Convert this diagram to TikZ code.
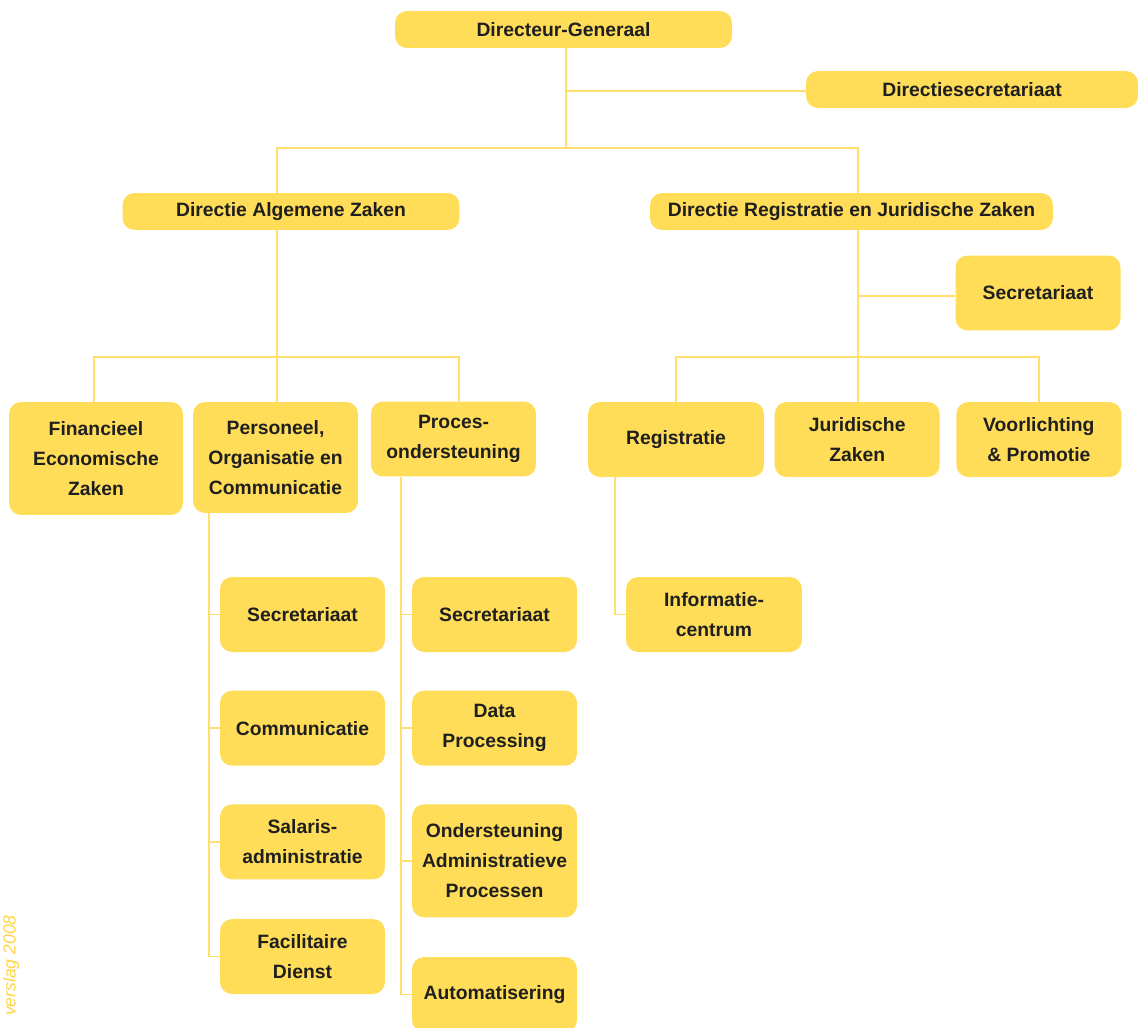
\documentclass[tikz,border=0pt]{standalone}
\usepackage{fontspec}
\setmainfont{Liberation Sans}
\usetikzlibrary{positioning}

\definecolor{unitfill}{RGB}{255,221,88}
\definecolor{unitline}{RGB}{255,224,110}
\definecolor{footyellow}{RGB}{255,212,70}

\begin{document}
\begin{tikzpicture}[x=0.02cm, y=-0.02cm]

\tikzstyle{unit} = [rectangle, rounded corners=0.24cm, fill=unitfill, align=center, text=black!88, inner sep=0pt, font=\fontsize{11}{17}\selectfont\bfseries]
\tikzstyle{wide} = [unit, minimum width=6.74cm, minimum height=0.74cm]
\tikzstyle{box} = [unit, minimum width=3.3cm, minimum height=1.5cm]
\tikzstyle{tall} = [unit, minimum width=3.3cm, minimum height=2.26cm]
\tikzstyle{conn} = [draw=unitline, line width=1pt]

\useasboundingbox (0,0) rectangle (1138,1027);

%% ------------------
%% -- TOP LEVEL --
%% ------------------

\node (dg) [wide] at (563.5,29.5) {Directeur-Generaal};
\node (dsec) [wide, minimum width=6.64cm] at (972,89.5) {Directiesecretariaat};

\node (daz) [wide] at (291,211.5) {Directie Algemene Zaken};
\node (drjz) [wide, minimum width=8.06cm] at (851.5,211.5) {Directie Registratie en Juridische Zaken};
\node (sec_r) [box] at (1038,293) {Secretariaat};

\coordinate (dg_spine) at (566,91);
\coordinate (top_l) at (277,148);
\coordinate (top_r) at (858,148);

\draw [conn] (dg.south -| dg_spine) -- (dg_spine |- top_l);
\draw [conn] (dg_spine) -- (dsec.west |- dg_spine);
\draw [conn] (daz.north -| top_l) -- (top_l) -- (top_r) -- (top_r |- drjz.north);

%% ------------------
%% -- ALGEMENE ZAKEN --
%% ------------------

\node (fez) [tall, minimum width=3.48cm] at (96,458.5) {Financieel\\Economische\\Zaken};
\node (poc) [tall, minimum height=2.22cm] at (275.5,457.5) {Personeel,\\Organisatie en\\Communicatie};
\node (proc) [box] at (453.5,439) {Proces-\\ondersteuning};

\coordinate (daz_bus) at (277,357);
\coordinate (daz_l) at (94,357);
\coordinate (daz_r) at (459,357);

\draw [conn] (daz.south -| daz_bus) -- (daz_bus) -- (poc.north -| daz_bus);
\draw [conn] (fez.north -| daz_l) -- (daz_l) -- (daz_r) -- (proc.north -| daz_r);

% POC
\node (sec_p) [box] at (302.5,614.5) {Secretariaat};
\node (comm) [box, below=0.76cm of sec_p] {Communicatie};
\node (sal) [box, below=0.76cm of comm] {Salaris-\\administratie};
\node (fac) [box, below=0.78cm of sal] {Facilitaire\\Dienst};

\coordinate (poc_spine) at (209,0);
\draw [conn] (poc.south -| poc_spine) -- (fac.west -| poc_spine) -- (fac.west);
\foreach \n in {sec_p, comm, sal}
  \draw [conn] (\n.west -| poc_spine) -- (\n.west);

% PROCESONDERSTEUNING
\node (sec_a) [box] at (494.5,614.5) {Secretariaat};
\node (data) [box, below=0.76cm of sec_a] {Data\\Processing};
\node (oap) [tall, below=0.76cm of data] {Ondersteuning\\Administratieve\\Processen};
\node (auto) [box, below=0.78cm of oap] {Automatisering};

\coordinate (proc_spine) at (401,0);
\draw [conn] (proc.south -| proc_spine) -- (auto.west -| proc_spine) -- (auto.west);
\foreach \n in {sec_a, data, oap}
  \draw [conn] (\n.west -| proc_spine) -- (\n.west);

%% ------------------
%% -- REGISTRATIE EN JURIDISCHE ZAKEN --
%% ------------------

\node (reg) [box, minimum width=3.52cm] at (676,439.5) {Registratie};
\node (jur) [box, right=0.2cm of reg] {Juridische\\Zaken};
\node (voorl) [box, right=0.32cm of jur] {Voorlichting\\\& Promotie};

\coordinate (drjz_spine) at (858,296);
\coordinate (drjz_bus) at (858,357);

\draw [conn] (drjz.south -| drjz_spine) -- (jur.north -| drjz_spine);
\draw [conn] (drjz_spine) -- (sec_r.west |- drjz_spine);
\draw [conn] (reg.north) -- (reg.north |- drjz_bus) -- (voorl.north |- drjz_bus) -- (voorl.north);

\node (info) [box, minimum width=3.52cm] at (714,614.5) {Informatie-\\centrum};

\coordinate (reg_spine) at (615,0);
\draw [conn] (reg.south -| reg_spine) -- (info.west -| reg_spine) -- (info.west);

% FOOTER
\node (year) [rotate=90, anchor=east, inner sep=0pt, text=footyellow, font=\fontsize{10}{12}\selectfont\itshape] at (11,915) {verslag 2008};

\end{tikzpicture}
\end{document}
